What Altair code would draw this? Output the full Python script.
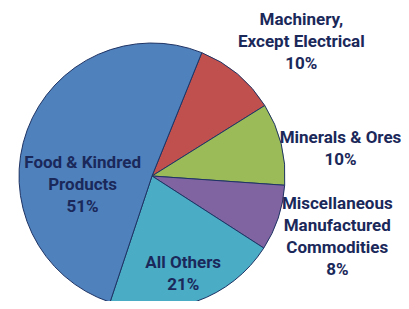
import math
import altair as alt
import pandas as pd

# ---- data ----
names = [
    "Machinery, Except Electrical",
    "Minerals & Ores",
    "Miscellaneous Manufactured Commodities",
    "All Others",
    "Food & Kindred Products",
]
label_lines = [
    "Machinery,\nExcept Electrical",
    "Minerals & Ores",
    "Miscellaneous\nManufactured\nCommodities",
    "All Others",
    "Food & Kindred\nProducts",
]
shares = [10, 10, 8, 21, 51]
colors = ["#C0504D", "#9BBB59", "#8064A2", "#4BACC6", "#4F81BD"]

df = pd.DataFrame({
    "name": names,
    "share": shares,
    "order": list(range(len(names))),
    "label": [f"{l}\n{s}%" for l, s in zip(label_lines, shares)],
})

START = math.radians(22)
CX, CY, R = 144, 168, 133
FONT = "Liberation Sans Narrow, Arial Narrow, Roboto, sans-serif"
TEXT_COLOR = "#1A285A"

base = alt.Chart(df)
theta = alt.Theta("share:Q", stack=True,
                  scale=alt.Scale(range=[START, START + 2 * math.pi]))

pie = base.mark_arc(outerRadius=R, x=CX, y=CY, stroke="#1F3464", strokeWidth=1).encode(
    theta=theta,
    order=alt.Order("order:Q"),
    color=alt.Color("name:N", scale=alt.Scale(domain=names, range=colors), legend=None),
)

# per-label placement: (radius, dx, dy) -- anchor is the first text line
place = {
    names[0]: (195, 24, -7),
    names[1]: (185, 9, 7),
    names[2]: (190, 5, -32),
    names[3]: (100, -2, -7),
    names[4]: (75, 1, 13),
}

layers = [pie]
for nm in names:
    r, dx, dy = place[nm]
    layers.append(
        base.mark_text(
            x=CX, y=CY, radius=r, dx=dx, dy=dy, lineBreak="\n", lineHeight=22,
            font=FONT, fontSize=17, fontWeight="bold", color=TEXT_COLOR,
            align="center", baseline="middle",
        ).encode(
            theta=theta,
            order=alt.Order("order:Q"),
            text=alt.condition(alt.datum.name == nm, "label:N", alt.value("")),
        )
    )

chart = alt.layer(*layers).properties(
    width=393, height=293, padding=0, autosize="none", background="white"
).configure_view(stroke=None)

chart.save("out.html", embed_options={"renderer": "svg", "actions": False})
